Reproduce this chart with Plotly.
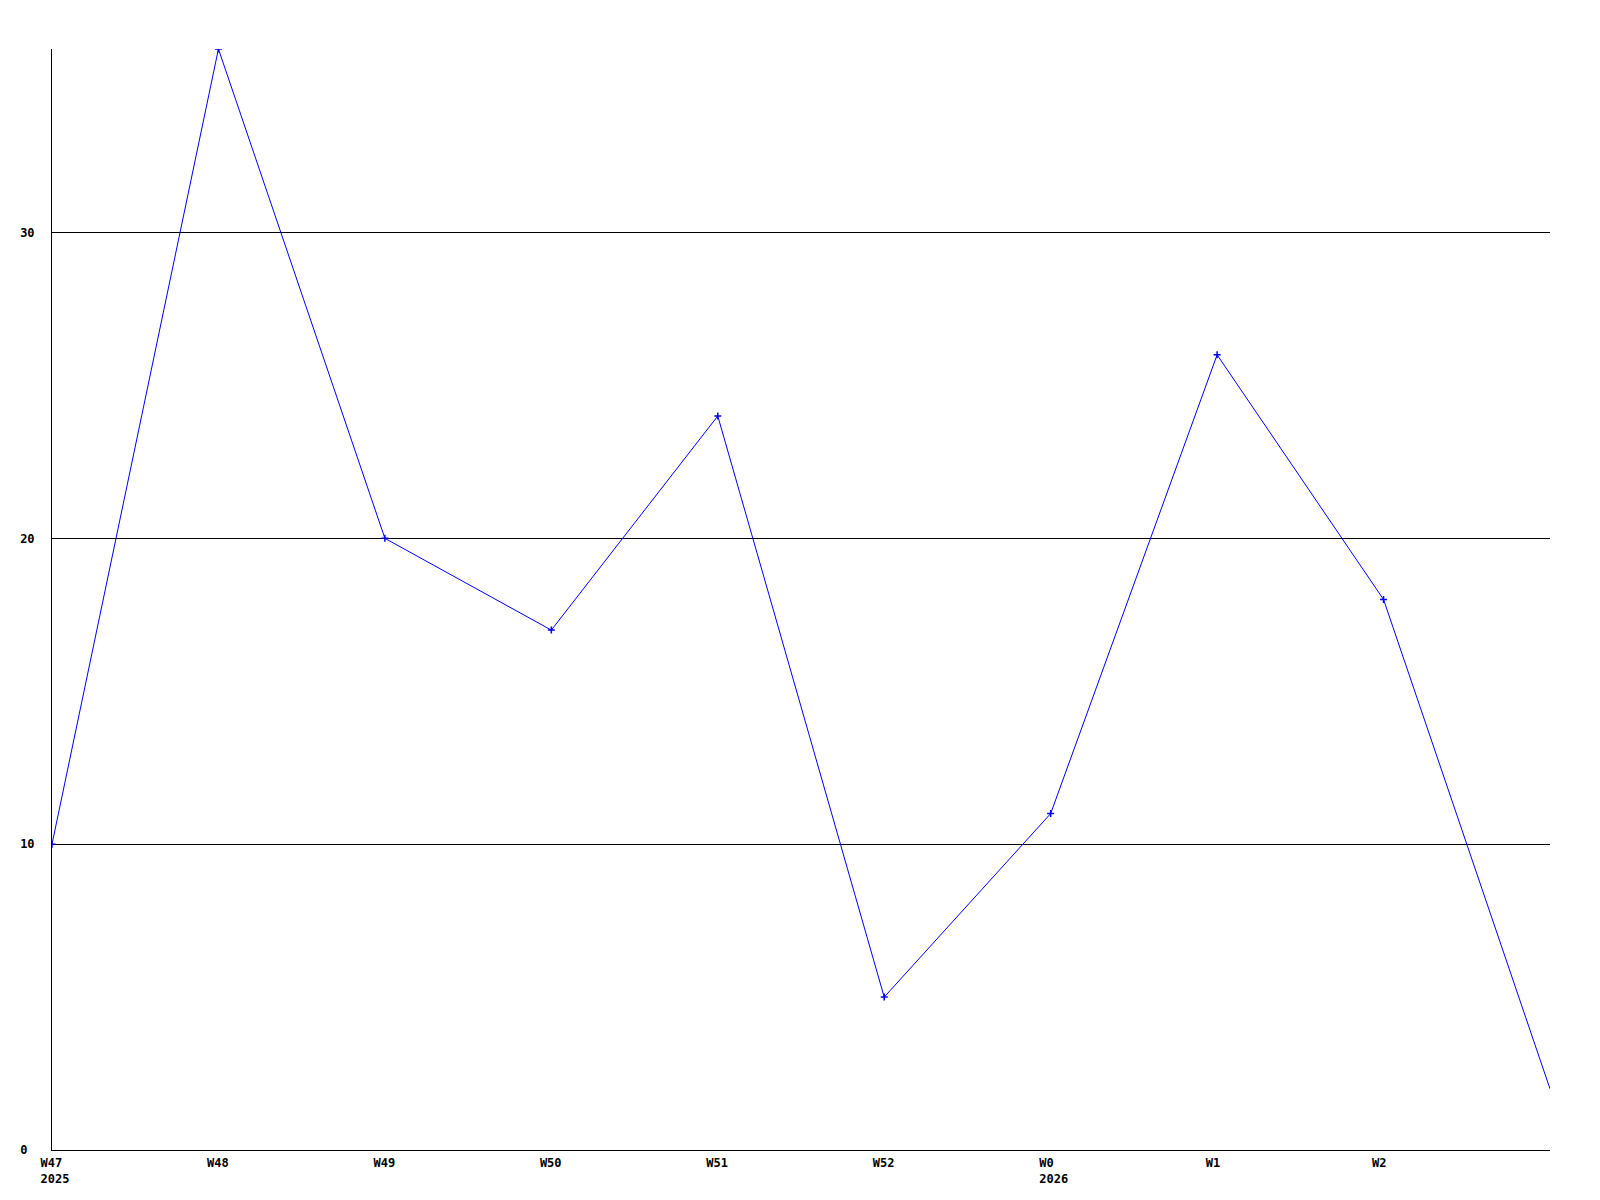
import plotly.graph_objects as go

weeks = ["W47", "W48", "W49", "W50", "W51", "W52", "W0", "W1", "W2", "W3"]
years = ["2025", "", "", "", "", "", "2026", "", "", ""]
values = [10, 36, 20, 17, 24, 5, 11, 26, 18, 2]
x_labels = ["W47\u00a0<br>2025", "W48\u00a0", "W49\u00a0", "W50\u00a0", "W51\u00a0",
            "W52\u00a0", "W0\u00a0\u00a0<br>2026", "W1\u00a0\u00a0", "W2\u00a0\u00a0"]
y_ticks = [0, 10, 20, 30]
y_labels = ["0\u00a0", "10", "20", "30"]

xs = list(range(len(weeks)))

fig = go.Figure()
fig.add_trace(go.Scatter(
    x=xs, y=values, mode="lines",
    line=dict(color="#0000ff", width=1),
    hoverinfo="skip", showlegend=False,
))
fig.add_trace(go.Scatter(
    x=xs[:-1], y=values[:-1], mode="markers",
    marker=dict(color="#0000ff", size=5, symbol="cross-thin",
                line=dict(color="#0000ff", width=1.5)),
    hoverinfo="skip", showlegend=False,
))

font = dict(family="DejaVu Sans Mono", size=12, color="black", weight="bold")

fig.update_layout(
    width=1592, height=1192,
    margin=dict(l=42, r=50, t=41, b=50, pad=0),
    paper_bgcolor="white", plot_bgcolor="white",
    font=font,
    xaxis=dict(
        range=[0, 9], tickmode="array", tickvals=xs[:9], ticktext=x_labels,
        showgrid=False, zeroline=False, showline=True, linecolor="black",
        linewidth=1, ticks="", tickfont=font, ticklabelshift=3,
        ticklabelstandoff=2,
    ),
    yaxis=dict(
        range=[0, 36], tickmode="array", tickvals=y_ticks, ticktext=y_labels,
        showgrid=True, gridcolor="black", gridwidth=1, zeroline=False,
        showline=True, linecolor="black", linewidth=1, ticks="",
        tickfont=font, ticklabelstandoff=14,
    ),
)

fig.write_html("out.html")
